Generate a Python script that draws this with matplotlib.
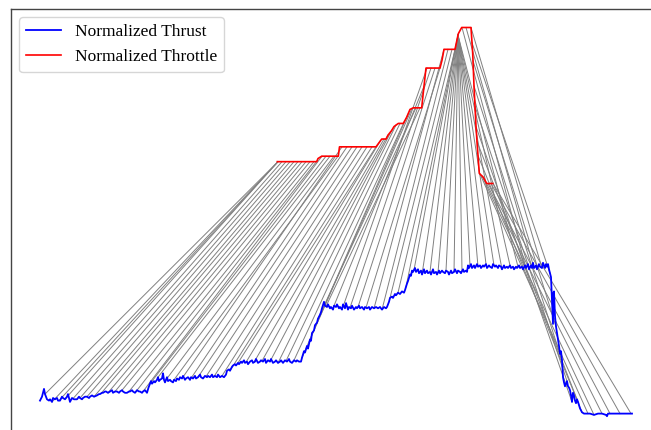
import numpy as np
import matplotlib
matplotlib.use("Agg")
import matplotlib.pyplot as plt

# ---- Normalized thrust samples (time step, value) ----
thrust_samples = [
    (0, -0.02), (2, 0.01), (4, 0.07), (5, 0.03), (7, -0.01), (9, -0.02), (10, -0.01), (12, -0.03), (13, 0.0), (15, -0.01),
    (17, 0.0), (18, -0.02), (20, -0.02), (22, 0.01), (23, 0.0), (25, -0.01), (27, 0.01), (28, 0.03), (30, -0.03), (32, 0.0),
    (34, -0.01), (37, -0.01), (39, 0.01), (40, 0.0), (42, -0.01), (43, 0.0), (45, 0.01), (47, 0.01), (49, 0.0), (50, 0.01),
    (52, 0.02), (54, 0.01), (57, 0.02), (59, 0.03), (60, 0.03), (62, 0.04), (63, 0.04), (65, 0.05), (66, 0.05), (68, 0.04),
    (70, 0.05), (72, 0.06), (73, 0.04), (75, 0.05), (77, 0.05), (79, 0.04), (80, 0.05), (82, 0.06), (83, 0.05), (85, 0.04),
    (87, 0.04), (89, 0.05), (90, 0.05), (92, 0.06), (93, 0.05), (95, 0.04), (97, 0.06), (99, 0.05), (100, 0.05), (102, 0.04),
    (103, 0.05), (105, 0.06), (107, 0.04),
    (108.5, 0.08), (110, 0.11), (111, 0.13), (112, 0.11), (114, 0.13), (115, 0.12), (117, 0.14), (118, 0.16), (119, 0.13),
    (120, 0.14), (122, 0.15), (123, 0.19), (124, 0.14), (125, 0.12), (126, 0.14), (127, 0.16), (128, 0.13), (130, 0.14),
    (131, 0.13), (133, 0.12), (134, 0.14), (136, 0.13), (137, 0.15), (139, 0.14), (140, 0.16), (142, 0.15), (143, 0.17),
    (145, 0.14), (146, 0.15), (148, 0.16), (150, 0.14), (151, 0.16), (153, 0.15), (155, 0.17), (156, 0.15), (158, 0.16),
    (160, 0.18), (161, 0.16), (163, 0.15), (165, 0.17), (167, 0.16), (168, 0.17), (170, 0.16), (172, 0.18), (173, 0.16),
    (175, 0.17), (177, 0.16), (178, 0.18), (180, 0.16), (182, 0.17), (184, 0.16),
    (186, 0.18), (187, 0.21), (189, 0.22), (190, 0.21), (192, 0.24), (193, 0.25), (195, 0.26), (196, 0.25), (198, 0.27),
    (199, 0.26), (201, 0.28), (202, 0.27), (204, 0.29), (205, 0.27), (207, 0.28), (208, 0.26), (210, 0.28), (212, 0.29),
    (213, 0.27), (215, 0.28), (216, 0.30), (218, 0.27), (220, 0.28), (221, 0.29), (223, 0.28), (225, 0.30), (226, 0.27),
    (228, 0.29), (230, 0.28), (231, 0.30), (233, 0.27), (235, 0.28), (236, 0.29), (238, 0.27), (240, 0.28), (241, 0.29),
    (243, 0.27), (245, 0.29), (247, 0.28), (249, 0.30), (250, 0.28), (252, 0.27), (254, 0.29), (256, 0.28), (257, 0.29),
    (259, 0.28), (261, 0.28),
    (262, 0.31), (264, 0.36), (265, 0.35), (267, 0.40), (268, 0.38), (270, 0.45), (271, 0.44), (272, 0.50), (274, 0.52),
    (275, 0.56), (277, 0.58), (278, 0.61), (280, 0.64), (281, 0.66), (282, 0.69), (284, 0.74), (285, 0.71),
    (287, 0.70), (288, 0.72), (290, 0.69), (291, 0.70), (293, 0.68), (294, 0.71), (296, 0.70), (297, 0.72), (299, 0.69),
    (300, 0.70), (302, 0.68), (303, 0.72), (305, 0.69), (306, 0.73), (308, 0.68), (309, 0.70), (311, 0.69), (312, 0.71),
    (314, 0.68), (316, 0.70), (317, 0.69), (319, 0.71), (320, 0.69), (322, 0.70), (324, 0.68), (325, 0.70), (327, 0.69),
    (329, 0.70), (330, 0.68), (332, 0.70), (334, 0.69), (336, 0.70), (338, 0.69), (340, 0.70), (342, 0.68), (344, 0.70),
    (346, 0.69), (347, 0.70),
    (349, 0.74), (350, 0.77), (352, 0.78), (353, 0.77), (355, 0.80), (356, 0.79), (358, 0.81), (360, 0.80), (362, 0.82),
    (364, 0.81), (365, 0.83), (367, 0.88), (368, 0.90), (370, 0.95), (371, 0.94), (372, 0.98), (373, 0.97), (375, 1.00),
    (376, 0.97), (378, 0.99), (379, 0.96), (381, 0.98), (382, 0.95), (384, 0.99), (385, 0.96), (387, 0.98), (388, 0.96),
    (390, 0.97), (391, 0.95), (393, 0.99), (394, 0.96), (396, 0.97), (397, 0.95), (399, 0.98), (400, 0.96), (402, 0.98),
    (403, 0.97), (405, 0.96), (406, 0.98), (408, 0.97), (409, 0.95), (411, 0.98), (412, 0.96), (414, 0.97), (415, 0.99),
    (417, 0.96), (418, 0.98), (420, 0.97), (421, 0.96), (423, 0.99), (424, 0.97), (426, 0.98), (427, 0.97), (428, 1.02),
    (429, 1.00), (431, 1.03), (432, 1.00), (434, 1.02), (435, 1.00), (437, 1.03), (438, 1.01), (440, 1.02), (441, 1.00),
    (443, 1.02), (444, 1.01), (446, 1.03), (447, 1.00), (449, 1.02), (450, 1.01), (452, 1.00), (453, 1.03), (455, 1.01),
    (456, 1.02), (458, 1.00), (459, 1.02), (461, 1.01), (462, 0.99), (464, 1.02), (465, 1.00), (467, 1.01), (468, 1.00),
    (470, 1.02), (471, 1.00), (473, 1.01), (474, 0.99), (476, 1.01), (477, 1.00), (479, 1.02), (480, 1.00), (482, 1.01),
    (483, 0.99), (485, 1.02), (486, 1.00), (488, 1.03), (489, 0.99), (491, 1.02), (492, 1.00), (493, 1.04), (494, 1.00),
    (496, 1.02), (497, 0.99), (499, 1.03), (500, 1.01), (502, 1.00), (503, 1.04), (505, 1.00), (506, 1.03), (507, 1.01),
    (508, 1.03), (509, 0.99),
    (511, 0.93), (512, 0.75), (513, 0.57), (513.5, 0.81), (514, 0.82), (515, 0.63), (516, 0.55), (517, 0.50), (518, 0.45),
    (519, 0.40), (520, 0.34), (521, 0.36), (522, 0.29), (523, 0.16), (524, 0.12), (525, 0.09), (527, 0.13), (528, 0.09),
    (529, 0.08), (530, 0.06), (531, 0.02), (532, -0.03), (533, 0.04), (534, 0.02), (535, -0.02), (536, -0.04), (537, -0.01),
    (538, -0.03), (540, -0.08), (542, -0.11), (544, -0.12), (547, -0.12), (550, -0.12), (554, -0.13), (558, -0.12),
    (562, -0.12), (566, -0.13), (567, -0.14), (568, -0.12), (573, -0.12), (580, -0.12), (586, -0.12), (592, -0.12),
]

# ---- Normalized throttle (time step, value in [0, 1]) ----
throttle_t = [237.3, 276.7, 278, 281.7, 298.3, 299.5, 336, 341.7, 346, 348, 351.7, 354, 358.3, 363.3,
              366.7, 370, 373.3, 381.7, 383, 386, 400, 402, 404, 415, 418.3, 421.7, 431, 432.7, 434,
              436, 437.3, 439.3, 443.3, 446.7, 452.7]
throttle_v = [0.14, 0.14, 0.16, 0.175, 0.175, 0.235, 0.235, 0.285, 0.285, 0.31, 0.34, 0.365, 0.385, 0.385,
              0.425, 0.475, 0.485, 0.485, 0.565, 0.74, 0.74, 0.79, 0.86, 0.86, 0.96, 1.0, 1.0, 0.835, 0.625,
              0.365, 0.24, 0.065, 0.04, 0.0, 0.0]
THROTTLE_OFFSET = 1.65
THROTTLE_SCALE = 1.2

# ---- DTW alignment pairs (throttle time step -> thrust time step) ----
align_throttle_t = [238, 238, 238, 238,
                    242, 246, 250, 254, 258, 262, 266, 270, 274, 277,
                    282, 286, 290, 294, 298,
                    302, 307, 312, 317, 322, 327, 332, 336,
                    340, 344, 348, 352, 356, 360, 364, 368, 372, 376, 380,
                    384, 387, 391, 395, 400,
                    404, 408, 412, 415,
                    418, 418, 418, 418, 418, 418, 418, 418, 418, 418, 418, 418, 418, 418, 418,
                    422, 426, 431,
                    432, 433, 434, 435, 436, 437, 438, 440, 442, 445, 448, 451, 453]
align_thrust_t = [5, 12, 19, 26,
                  33, 40, 47, 54, 61, 68, 75, 82, 89, 96,
                  103, 110, 118, 126, 134,
                  142, 150, 158, 166, 174, 182, 190, 198,
                  206, 214, 222, 230, 238, 246, 254, 262, 270, 278, 286,
                  294, 302, 310, 318, 326,
                  334, 342, 350, 358,
                  366, 374, 382, 390, 398, 406, 414, 422, 430, 438, 446, 454, 462, 470, 478,
                  486, 494, 502,
                  510, 516, 522, 527, 532, 537, 542, 548, 554, 562, 570, 580, 591]

plt.rcParams['font.family'] = ['Liberation Serif', 'DejaVu Serif']

W, H = 651, 430
fig = plt.figure(figsize=(W / 100, H / 100), dpi=100)

# axes box: left spine at x=10.5px, top spine at y=8.7px; right/bottom outside the image
left_px, right_px, top_px, bottom_px = 10.5, 661.0, 8.7, 440.0
ax = fig.add_axes([left_px / W, (H - bottom_px) / H,
                   (right_px - left_px) / W, (bottom_px - top_px) / H])

thrust_t_a = np.array([p[0] for p in thrust_samples], dtype=float)
thrust_v_a = np.array([p[1] for p in thrust_samples], dtype=float)
thr_t_a = np.array(throttle_t)
thr_plot = THROTTLE_OFFSET + THROTTLE_SCALE * np.array(throttle_v)

# alignment lines
for rt, bt in zip(align_throttle_t, align_thrust_t):
    y_top = np.interp(rt, thr_t_a, thr_plot)
    y_bot = np.interp(bt, thrust_t_a, thrust_v_a)
    ax.plot([rt, bt], [y_top, y_bot], color='gray', lw=0.7, zorder=1)

ax.plot(thrust_t_a, thrust_v_a, color='blue', lw=1.3, label='Normalized Thrust', zorder=2)
ax.plot(thr_t_a, thr_plot, color='red', lw=1.2, label='Normalized Throttle', zorder=3)

# data limits mapped to pixel layout: t = px - 40, y = (398 - py)/130
ax.set_xlim(left_px - 40, right_px - 40)
ax.set_ylim((398 - bottom_px) / 130, (398 - top_px) / 130)
ax.set_xticks([])
ax.set_yticks([])
for s in ax.spines.values():
    s.set_color('#444444')
    s.set_linewidth(1.0)

ax.legend(loc='upper left', fontsize=12.5)

fig.savefig('out.png', dpi=100)
